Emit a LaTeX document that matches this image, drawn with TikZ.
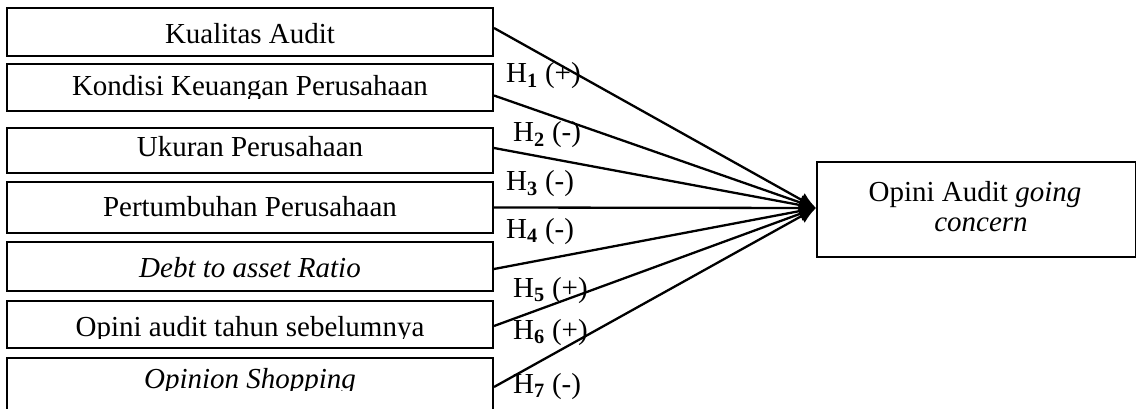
\documentclass[tikz,border=0pt]{standalone}
\usepackage{fontspec}
\setmainfont{Liberation Serif}
\usetikzlibrary{arrows.meta,fit}
% #1 name, #2 top, #3 bottom, #4 baseline, #5 text
\newcommand\lbx[5]{%
  \coordinate (#1-a) at (7,#2);
  \coordinate (#1-b) at (493,#3);
  \node[lbox, fit=(#1-a)(#1-b)] (#1) {};
  \begin{scope}
    \clip (8,#2) rectangle (492,{#4+2.5});
    \node[anchor=base, inner sep=0pt] (#1-t) at (250,#4) {#5};
  \end{scope}%
}
\begin{document}
\begin{tikzpicture}[x=1pt,y=-1pt,
  every node/.style={font=\fontsize{29}{28}\selectfont},
  lbox/.style={draw, line width=2pt, inner sep=0pt},
  conn/.style={line width=2.3pt, -{Latex[length=17pt,width=15pt]}},
  hlab/.style={anchor=base west, inner sep=0pt}]
\clip (0,0) rectangle (1136,409);
\fill[white] (0,0) rectangle (1136,409);

\lbx{kua}{8}{56}{44}{Kualitas Audit}
\lbx{kon}{64}{111}{96}{Kondisi Keuangan Perusahaan}
\lbx{ukr}{128}{173}{157}{Ukuran Perusahaan}
\lbx{per}{182}{233}{217}{Pertumbuhan Perusahaan}
\lbx{dar}{242}{291}{277}{\textit{Debt to asset Ratio}}
\lbx{opa}{301}{348}{336}{Opini audit tahun sebelumnya}
\lbx{ops}{358}{416}{388}{\textit{Opinion Shopping}}

\coordinate (r-a) at (817,162);
\coordinate (r-b) at (1136,257);
\node[lbox, fit=(r-a)(r-b)] (rb) {};
\node[anchor=base, inner sep=0pt] (rb-t1) at (975,202) {Opini Audit \textit{going}};
\node[anchor=base, inner sep=0pt] (rb-t2) at (981,232) {\textit{concern}};
\coordinate (tip) at ([yshift=1.5pt]rb.west);

\draw[conn] ([yshift=4pt]kua.east) -- (tip);
\draw[conn] ([yshift=-8pt]kon.east) -- (tip);
\draw[conn] ([yshift=2.5pt]ukr.east) -- (tip);
\draw[conn] (per.east) -- (tip);
\draw[conn] ([yshift=-2.5pt]dar.east) -- (tip);
\draw[conn] ([yshift=-1.5pt]opa.east) -- (tip);
\draw[conn] (ops.east) -- (tip);

\node[hlab] (h1) at (506,83) {H\textsubscript{\textbf{1}} (+)};
\node[hlab] (h2) at (513,142) {H\textsubscript{\textbf{2}} (-)};
\node[hlab] (h3) at (506,191) {H\textsubscript{\textbf{3}} (-)};
\node[hlab] (h4) at (506,238) {H\textsubscript{\textbf{4}} (-)};
\node[hlab] (h5) at (513,297) {H\textsubscript{\textbf{5}} (+)};
\node[hlab] (h6) at (513,339) {H\textsubscript{\textbf{6}} (+)};
\node[hlab] (h7) at (513,393) {H\textsubscript{\textbf{7}} (-)};
\end{tikzpicture}
\end{document}
